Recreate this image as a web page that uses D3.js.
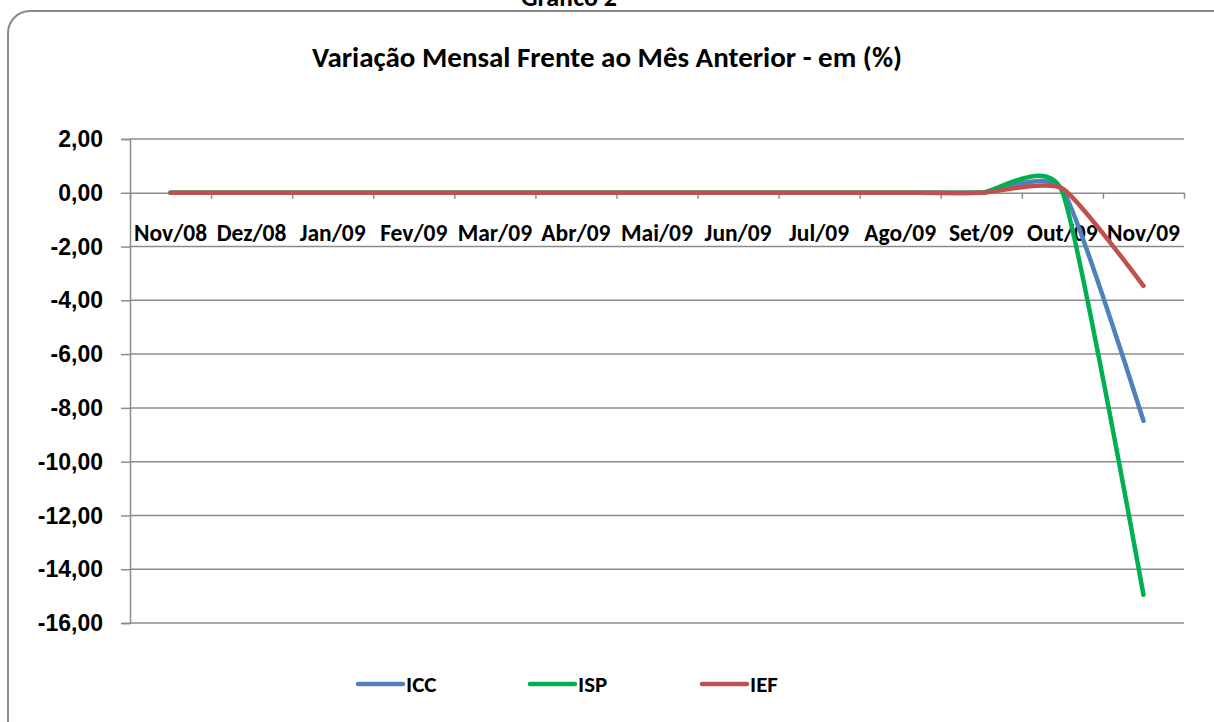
<!DOCTYPE html>
<html>
<head>
<meta charset="utf-8">
<script src="https://cdn.jsdelivr.net/npm/d3@7"></script>
<style>
  body { margin: 0; background: #fff; }
  svg { display: block; font-family: Carlito, Calibri, "Open Sans", sans-serif; font-weight: bold; }
</style>
</head>
<body>
<div id="chart"></div>
<script>
// Chart data
const months = ['Nov/08', 'Dez/08', 'Jan/09', 'Fev/09', 'Mar/09', 'Abr/09', 'Mai/09',
                'Jun/09', 'Jul/09', 'Ago/09', 'Set/09', 'Out/09', 'Nov/09'];
const icc = [0, 0, 0, 0, 0, 0, 0, 0, 0, 0, 0, 0.12, -8.48];
const isp = [0, 0, 0, 0, 0, 0, 0, 0, 0, 0, 0, 0.03, -14.95];
const ief = [0, 0, 0, 0, 0, 0, 0, 0, 0, 0, 0, 0.16, -3.46];
const yTicks = [2, 0, -2, -4, -6, -8, -10, -12, -14, -16];

const seriesList = [
    { name: 'ICC', values: icc, color: '#4F81BD' },
    { name: 'ISP', values: isp, color: '#00B050' },
    { name: 'IEF', values: ief, color: '#C0504D' }
];

const width = 1214, height = 722;
const plot = { left: 130, right: 1184, top: 139, bottom: 623 };
const gridColor = '#8c8c8c';

const svg = d3.select('#chart').append('svg')
    .attr('width', width)
    .attr('height', height);

// outer frame (runs off the right and bottom edges)
svg.append('rect')
    .attr('x', 8).attr('y', 11)
    .attr('width', 1240).attr('height', 740)
    .attr('rx', 22)
    .attr('fill', '#fff')
    .attr('stroke', '#8a8a8a')
    .attr('stroke-width', 2);

// caption above the frame, partly cut off by the page top
svg.append('text')
    .attr('x', 569).attr('y', 6)
    .attr('text-anchor', 'middle')
    .attr('font-size', 26)
    .text('Gráfico 2');

svg.append('text')
    .attr('x', 607).attr('y', 67)
    .attr('text-anchor', 'middle')
    .attr('font-size', 29)
    .text('Variação Mensal Frente ao Mês Anterior - em (%)');

// scales
const x = d3.scalePoint()
    .domain(months)
    .range([plot.left, plot.right])
    .padding(0.5);
const xEdge = d3.scaleLinear()
    .domain([0, months.length])
    .range([plot.left, plot.right]);
const y = d3.scaleLinear()
    .domain([-16, 2])
    .range([plot.bottom, plot.top]);

// horizontal gridlines
svg.append('g')
    .selectAll('line')
    .data(yTicks.filter(d => d !== 0))
    .join('line')
    .attr('x1', plot.left).attr('x2', plot.right)
    .attr('y1', d => y(d)).attr('y2', d => y(d))
    .attr('stroke', gridColor)
    .attr('stroke-width', 1.5);

// y axis
const yAxis = svg.append('g')
    .attr('transform', `translate(${plot.left},0)`)
    .call(d3.axisLeft(y)
        .tickValues(yTicks)
        .tickSize(9)
        .tickPadding(18)
        .tickFormat(d => d3.format('.2f')(d).replace('.', ',').replace('−', '-')));
yAxis.select('.domain').attr('stroke', gridColor).attr('stroke-width', 1.5);
yAxis.selectAll('.tick line').attr('stroke', gridColor).attr('stroke-width', 1.5);
yAxis.selectAll('.tick text')
    .attr('font-size', 23)
    .attr('fill', '#000')
    .attr('dy', '0.33em');

// x axis at zero, tick marks at category edges
const xAxis = svg.append('g')
    .attr('transform', `translate(0,${y(0)})`)
    .call(d3.axisBottom(xEdge)
        .tickValues(d3.range(0, months.length + 1))
        .tickSize(6)
        .tickSizeOuter(0)
        .tickFormat(''));
xAxis.select('.domain').attr('stroke', gridColor).attr('stroke-width', 1.5);
xAxis.selectAll('.tick line').attr('stroke', gridColor).attr('stroke-width', 1.5);

// category labels sit below the zero line
svg.append('g')
    .selectAll('text')
    .data(months)
    .join('text')
    .attr('x', d => x(d))
    .attr('y', y(0) + 48)
    .attr('text-anchor', 'middle')
    .attr('font-size', 23.5)
    .text(d => d);

// series lines (smoothed like the spreadsheet curve)
const line = d3.line()
    .x((d, i) => x(months[i]))
    .y(d => y(d))
    .curve(d3.curveCardinal.tension(0.45));

svg.append('g')
    .selectAll('path')
    .data(seriesList)
    .join('path')
    .attr('d', d => line(d.values))
    .attr('fill', 'none')
    .attr('stroke', d => d.color)
    .attr('stroke-width', 4.5)
    .attr('stroke-linecap', 'round')
    .attr('stroke-linejoin', 'round');

// legend
const legend = svg.append('g')
    .selectAll('g')
    .data(seriesList)
    .join('g')
    .attr('transform', (d, i) => `translate(${358 + i * 172},684)`);
legend.append('line')
    .attr('x1', 0).attr('x2', 45)
    .attr('stroke', d => d.color)
    .attr('stroke-width', 4.5)
    .attr('stroke-linecap', 'round');
legend.append('text')
    .attr('x', 48).attr('y', 8)
    .attr('font-size', 23)
    .text(d => d.name);
</script>
</body>
</html>
